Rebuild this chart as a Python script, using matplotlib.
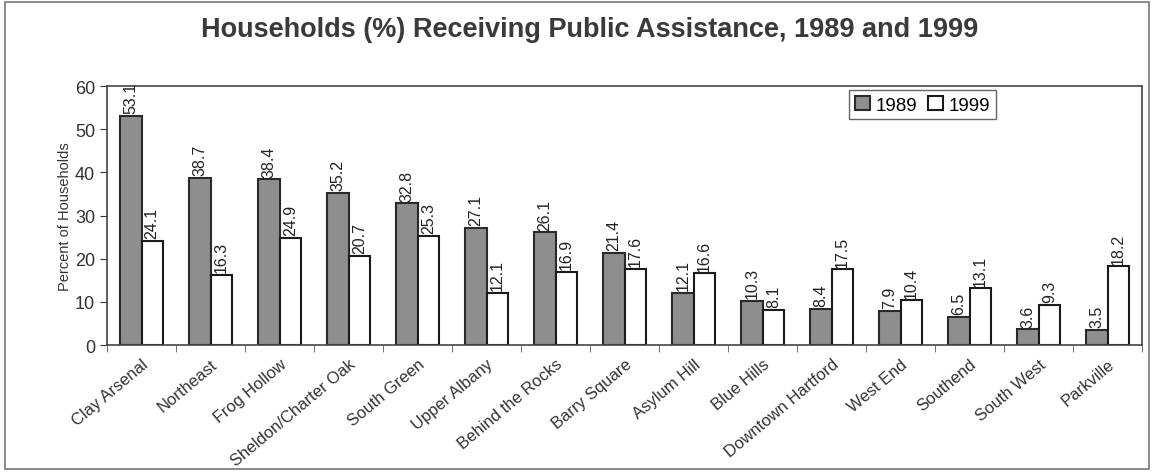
import matplotlib
matplotlib.use('Agg')
import matplotlib.pyplot as plt
from matplotlib.patches import Rectangle
import numpy as np

plt.rcParams['font.family'] = ['Liberation Sans', 'DejaVu Sans']

neighborhoods = ['Clay Arsenal', 'Northeast', 'Frog Hollow', 'Sheldon/Charter Oak',
                 'South Green', 'Upper Albany', 'Behind the Rocks', 'Barry Square',
                 'Asylum Hill', 'Blue Hills', 'Downtown Hartford', 'West End',
                 'Southend', 'South West', 'Parkville']
pct_1989 = [53.1, 38.7, 38.4, 35.2, 32.8, 27.1, 26.1, 21.4, 12.1, 10.3, 8.4, 7.9, 6.5, 3.6, 3.5]
pct_1999 = [24.1, 16.3, 24.9, 20.7, 25.3, 12.1, 16.9, 17.6, 16.6, 8.1, 17.5, 10.4, 13.1, 9.3, 18.2]
years = ['1989', '1999']

fig = plt.figure(figsize=(11.56, 4.77), dpi=100)
ax = fig.add_axes([0.0926, 0.2746, 0.8954, 0.543])

# outer chart border
fig.patches.append(Rectangle((0.004, 0.014), 0.99, 0.98, transform=fig.transFigure,
                             fill=False, edgecolor='#777777', linewidth=1.2))

x = np.arange(len(neighborhoods))
w = 0.31
b1 = ax.bar(x - w / 2, pct_1989, w, color='#8e8e8e', edgecolor='#2a2a2a',
            linewidth=1.5, label=years[0])
b2 = ax.bar(x + w / 2, pct_1999, w, color='white', edgecolor='#1a1a1a',
            linewidth=1.5, label=years[1])

for bars, vals in [(b1, pct_1989), (b2, pct_1999)]:
    for rect, v in zip(bars, vals):
        ax.text(rect.get_x() + rect.get_width() / 2, v + 0.6, f'{v:.1f}',
                rotation=90, ha='center', va='bottom', fontsize=11.5, color='#222222',
                clip_on=False)

ax.set_xlim(-0.5, len(neighborhoods) - 0.5)
ax.set_ylim(0, 60)
ax.set_yticks(range(0, 61, 10))
ax.tick_params(axis='y', labelsize=13, length=5, direction='out', colors='#333333')
ax.set_xticks(x)
ax.set_xticklabels(neighborhoods, rotation=40, ha='right', rotation_mode='anchor',
                   fontsize=12, color='#333333')
ax.tick_params(axis='x', length=0, pad=8)
ax.set_xticks(np.arange(-0.5, len(neighborhoods), 1), minor=True)
ax.tick_params(axis='x', which='minor', length=5, direction='out', color='#555555')

for s in ax.spines.values():
    s.set_color('#444444')
    s.set_linewidth(1.2)

ax.set_ylabel('Percent of Households', fontsize=10.5, color='#333333', labelpad=2)

ax.legend(loc='upper left', bbox_to_anchor=(0.708, 1.02), ncol=2, fontsize=13.5,
          frameon=True, fancybox=False, edgecolor='#666666', handlelength=0.8,
          handleheight=0.8, handletextpad=0.3, columnspacing=0.6, borderpad=0.3,
          framealpha=1)

fig.suptitle('Households (%) Receiving Public Assistance, 1989 and 1999',
             x=0.51, y=0.965, fontsize=19.5, fontweight='bold', color='#3a3a3a')

fig.savefig('out.png', dpi=100)
